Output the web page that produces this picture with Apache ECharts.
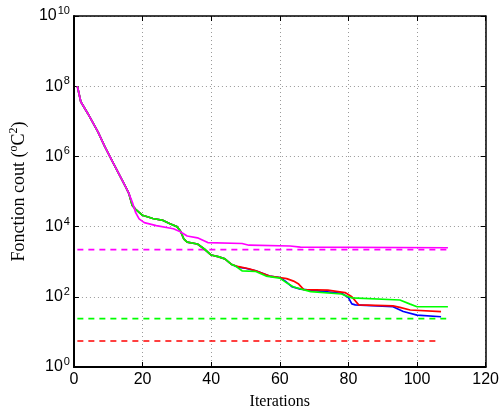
<!DOCTYPE html>
<html>
<head>
<meta charset="utf-8">
<script src="https://cdn.jsdelivr.net/npm/echarts@6/dist/echarts.min.js"></script>
<style>
  html, body { margin: 0; padding: 0; background: #fff; }
  #chart { width: 502px; height: 417px; }
</style>
</head>
<body>
<div id="chart"></div>
<script>
// Cost function history per run (iteration, cost in °C²)
const blueIter = [1, 2, 4, 7, 9, 12, 15, 16, 17, 18, 20, 23, 26, 28, 30, 31, 32, 33, 36, 38, 40, 42, 44, 46, 48, 50, 53, 57, 60, 61.6, 63.5, 66, 71, 78, 80, 81, 82, 93, 96, 100, 107];
const blueCost = [1e8, 3.6e7, 1.7e7, 5.0e6, 1.9e6, 5.1e5, 1.4e5, 8.9e4, 4.0e4, 3.1e4, 2.1e4, 1.7e4, 1.5e4, 1.2e4, 1.0e4, 7.6e3, 4.5e3, 3.6e3, 3.2e3, 2.3e3, 1.55e3, 1.4e3, 1.2e3, 830, 690, 650, 550, 390, 355, 280, 195, 166, 148, 126, 95, 63, 59, 52, 38, 30, 27];

const redIter = [1, 2, 4, 7, 9, 12, 15, 16, 17, 18, 20, 23, 26, 28, 30, 31, 32, 33, 36, 38, 40, 42, 44, 46, 48, 51, 53, 57, 60, 62, 64, 65.5, 67, 74, 79, 81, 83, 93, 95, 98, 107];
const redCost = [1e8, 3.6e7, 1.7e7, 5.0e6, 1.9e6, 5.1e5, 1.4e5, 8.9e4, 4.0e4, 3.1e4, 2.1e4, 1.7e4, 1.5e4, 1.2e4, 1.0e4, 7.6e3, 4.5e3, 3.6e3, 3.2e3, 2.3e3, 1.55e3, 1.4e3, 1.2e3, 830, 720, 630, 550, 390, 355, 330, 280, 230, 160, 155, 132, 100, 59, 55, 50, 42, 38];

const greenIter = [1, 2, 4, 7, 9, 12, 15, 16, 17, 18, 20, 23, 26, 28, 30, 31, 32, 33, 36, 38, 40, 42, 44, 46, 47, 49, 53, 56, 60, 62, 64, 69, 78, 80, 81, 95, 98, 100, 109];
const greenCost = [1e8, 3.6e7, 1.7e7, 5.0e6, 1.9e6, 5.1e5, 1.4e5, 8.9e4, 4.0e4, 3.1e4, 2.1e4, 1.7e4, 1.5e4, 1.2e4, 1.0e4, 7.6e3, 4.5e3, 3.6e3, 3.2e3, 2.3e3, 1.55e3, 1.4e3, 1.2e3, 830, 760, 550, 525, 390, 340, 250, 190, 141, 120, 100, 93, 81, 62, 52, 52];

const magentaIter = [1, 2, 4, 7, 9, 12, 15, 16, 17, 18, 19, 20.5, 24, 29, 31, 33, 36, 39, 49, 51, 63, 66, 109];
const magentaCost = [1e8, 3.6e7, 1.7e7, 5.0e6, 1.9e6, 5.1e5, 1.4e5, 8.9e4, 5.0e4, 2.5e4, 1.66e4, 1.3e4, 1.07e4, 8.7e3, 7.1e3, 5.4e3, 4.8e3, 3.5e3, 3.3e3, 2.95e3, 2.8e3, 2.6e3, 2.5e3];

// Reference levels (dashed)
const magentaRefIter = [1, 109];
const magentaRef = [2200, 2200];
const greenRefIter = [1, 108.5];
const greenRef = [24, 24];
const redRefIter = [1, 106];
const redRef = [5.5, 5.5];

// Axis ticks
const xTicks = [0, 20, 40, 60, 80, 100, 120];
const yExponents = [0, 2, 4, 6, 8, 10];

const pairs = (xs, ys) => xs.map((x, i) => [x, ys[i]]);

const chart = echarts.init(document.getElementById('chart'), null, { renderer: 'canvas' });

const sans = 'Liberation Sans, Arial, sans-serif';
const serif = 'Liberation Serif, Times New Roman, serif';
const tickFont = { fontFamily: sans, fontSize: 16, color: '#000' };

const solid = (name, xs, ys, color) => ({
  name, type: 'line', data: pairs(xs, ys), showSymbol: false, symbol: 'none',
  lineStyle: { color, width: 1.7 }, z: 3, animation: false
});
const dashed = (name, xs, ys, color) => ({
  name, type: 'line', data: pairs(xs, ys), showSymbol: false, symbol: 'none',
  lineStyle: { color, width: 1.7, type: [6, 5] }, z: 2, animation: false
});

chart.setOption({
  backgroundColor: '#fff',
  animation: false,
  grid: { left: 72, right: 12, top: 16, bottom: 50, containLabel: false },
  xAxis: [{
    type: 'value', min: xTicks[0], max: xTicks[xTicks.length - 1], interval: 20,
    position: 'bottom',
    name: 'Iterations', nameLocation: 'middle', nameGap: 27,
    nameTextStyle: { fontFamily: serif, fontSize: 16, color: '#000' },
    axisLine: { show: true, onZero: false, lineStyle: { color: '#000', width: 2 } },
    axisTick: { show: true, inside: true, length: 5, lineStyle: { color: '#000' } },
    axisLabel: Object.assign({ margin: 5 }, tickFont),
    splitLine: { show: true, lineStyle: { color: '#9a9a9a', type: [1, 3], width: 1 } }
  }, {
    type: 'value', min: xTicks[0], max: xTicks[xTicks.length - 1], interval: 20,
    position: 'top',
    axisLine: { show: true, onZero: false, lineStyle: { color: '#000', width: 1.5 } },
    axisTick: { show: true, inside: true, length: 5, lineStyle: { color: '#000' } },
    axisLabel: { show: false },
    splitLine: { show: false }
  }],
  yAxis: [{
    type: 'log', logBase: 10, min: 1, max: 1e10, interval: 2,
    position: 'left',
    name: 'Fonction cout ({sup|o}C{sup|2})', nameLocation: 'middle', nameGap: 41, nameRotate: 90,
    nameTextStyle: {
      fontFamily: serif, fontSize: 18, color: '#000',
      rich: { sup: { fontFamily: serif, fontSize: 12, color: '#000', padding: [0, 0, 10, 0] } }
    },
    axisLine: { show: true, onZero: false, lineStyle: { color: '#000', width: 2 } },
    axisTick: { show: true, inside: true, length: 5, lineStyle: { color: '#000' } },
    axisLabel: Object.assign({
      margin: 4,
      formatter: v => '10{sup|' + Math.round(Math.log10(v)) + '}',
      rich: {
        sup: { fontFamily: sans, fontSize: 11, color: '#000', padding: [0, 0, 10, 1] }
      }
    }, tickFont),
    splitLine: { show: true, lineStyle: { color: '#9a9a9a', type: [1, 3], width: 1 } }
  }, {
    type: 'log', logBase: 10, min: 1, max: 1e10, interval: 2,
    position: 'right',
    axisLine: { show: true, onZero: false, lineStyle: { color: '#000', width: 1.5 } },
    axisTick: { show: true, inside: true, length: 5, lineStyle: { color: '#000' } },
    axisLabel: { show: false },
    splitLine: { show: false }
  }],
  series: [
    dashed('magenta ref', magentaRefIter, magentaRef, '#ff00ff'),
    dashed('green ref', greenRefIter, greenRef, '#00ff00'),
    dashed('red ref', redRefIter, redRef, '#ff0000'),
    solid('blue', blueIter, blueCost, '#0000ff'),
    solid('red', redIter, redCost, '#ff0000'),
    solid('green', greenIter, greenCost, '#00ff00'),
    solid('magenta', magentaIter, magentaCost, '#ff00ff')
  ]
});
</script>
</body>
</html>
